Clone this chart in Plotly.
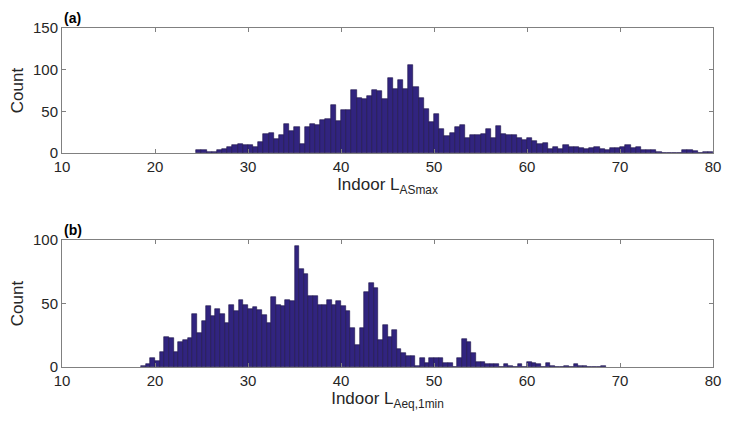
import plotly.graph_objects as go

# ---------------- data ----------------
# Panel (a): Indoor L_ASmax histogram (100 bins)
a_bin_start = 24.432
a_bin_width = 0.556
a_counts = [3, 4, 1, 1, 3, 5, 7, 9, 11, 9,
            10, 7, 13, 23, 24, 17, 22, 35, 26, 31,
            11, 31, 35, 34, 40, 41, 57, 38, 51, 51,
            76, 66, 65, 68, 76, 74, 65, 90, 77, 88,
            77, 105, 79, 66, 53, 37, 47, 29, 20, 24,
            31, 33, 18, 22, 22, 23, 29, 18, 32, 23,
            21, 21, 18, 15, 18, 14, 11, 12, 5, 7,
            5, 9, 7, 7, 6, 5, 6, 7, 5, 4,
            6, 6, 7, 9, 6, 7, 4, 3, 4, 1,
            0, 0, 0, 0, 3, 3, 2, 0, 1, 1]

# Panel (b): Indoor L_Aeq,1min histogram (100 bins)
b_bin_start = 18.5
b_bin_width = 0.5
b_counts = [1, 2, 7, 5, 12, 24, 23, 12, 20, 21,
            23, 42, 27, 36, 48, 40, 46, 42, 35, 49,
            44, 53, 49, 46, 47, 45, 41, 35, 55, 49,
            48, 53, 52, 95, 77, 73, 56, 56, 49, 49,
            53, 49, 52, 48, 44, 31, 17, 31, 59, 66,
            62, 21, 33, 24, 29, 14, 11, 9, 9, 1,
            7, 3, 7, 7, 7, 3, 3, 0, 7, 22,
            20, 11, 4, 4, 2, 2, 2, 0, 2, 1,
            0, 2, 0, 4, 3, 2, 0, 3, 1, 0,
            0, 1, 0, 2, 1, 1, 0, 0, 0, 1]

x_ticks = [10, 20, 30, 40, 50, 60, 70, 80]
a_y_ticks = [0, 50, 100, 150]
b_y_ticks = [0, 50, 100]

a_centers = [a_bin_start + a_bin_width * (i + 0.5) for i in range(len(a_counts))]
b_centers = [b_bin_start + b_bin_width * (i + 0.5) for i in range(len(b_counts))]

# ---------------- style ----------------
FONT = "Liberation Sans, Arial, Helvetica, sans-serif"
TXT = "#262626"
AX = "#808080"
FILL = "#31247f"
EDGE = "#1b1248"

fig = go.Figure()
fig.add_trace(go.Bar(x=a_centers, y=a_counts, width=a_bin_width,
                     marker=dict(color=FILL, line=dict(color=EDGE, width=0.6)),
                     xaxis="x", yaxis="y", showlegend=False))
fig.add_trace(go.Bar(x=b_centers, y=b_counts, width=b_bin_width,
                     marker=dict(color=FILL, line=dict(color=EDGE, width=0.6)),
                     xaxis="x2", yaxis="y2", showlegend=False))

common_x = dict(range=[10, 80], tickvals=x_ticks, ticks="inside", ticklen=4,
                tickcolor=AX, showline=True, linecolor=AX, linewidth=1,
                mirror="ticks", showgrid=False, zeroline=False, automargin=False,
                tickfont=dict(family=FONT, size=15, color=TXT))
common_y = dict(ticks="inside", ticklen=4, tickcolor=AX, showline=True,
                linecolor=AX, linewidth=1, mirror="ticks", showgrid=False,
                zeroline=False, automargin=False,
                tickfont=dict(family=FONT, size=15, color=TXT))

# the page body adds an 8 px offset, so the figure is sized to fit the window
fig.update_layout(
    width=725, height=416,
    margin=dict(l=54, r=20, t=20, b=57),
    paper_bgcolor="white", plot_bgcolor="white",
    barmode="overlay", bargap=0,
    font=dict(family=FONT, color=TXT),
    xaxis=dict(**common_x, anchor="y",
               title=dict(text="Indoor L<sub>ASmax</sub>",
                          font=dict(family=FONT, size=17, color=TXT), standoff=4)),
    yaxis=dict(**common_y, domain=[0.6314, 1.0], range=[0, 150], tickvals=a_y_ticks,
               anchor="x",
               title=dict(text="Count", font=dict(family=FONT, size=17, color=TXT),
                          standoff=8)),
    xaxis2=dict(**common_x, anchor="y2",
                title=dict(text="Indoor L<sub>Aeq,1min</sub>",
                           font=dict(family=FONT, size=17, color=TXT), standoff=4)),
    yaxis2=dict(**common_y, domain=[0.0, 0.3746], range=[0, 100], tickvals=b_y_ticks,
                anchor="x2",
                title=dict(text="Count", font=dict(family=FONT, size=17, color=TXT),
                           standoff=8)),
    annotations=[
        dict(text="<b>(a)</b>", x=0, y=1, xref="x domain", yref="y domain",
             xanchor="left", yanchor="bottom", showarrow=False,
             font=dict(family=FONT, size=14, color="black")),
        dict(text="<b>(b)</b>", x=0, y=1, xref="x2 domain", yref="y2 domain",
             xanchor="left", yanchor="bottom", showarrow=False,
             font=dict(family=FONT, size=14, color="black")),
    ],
)

fig.write_html("out.html")
